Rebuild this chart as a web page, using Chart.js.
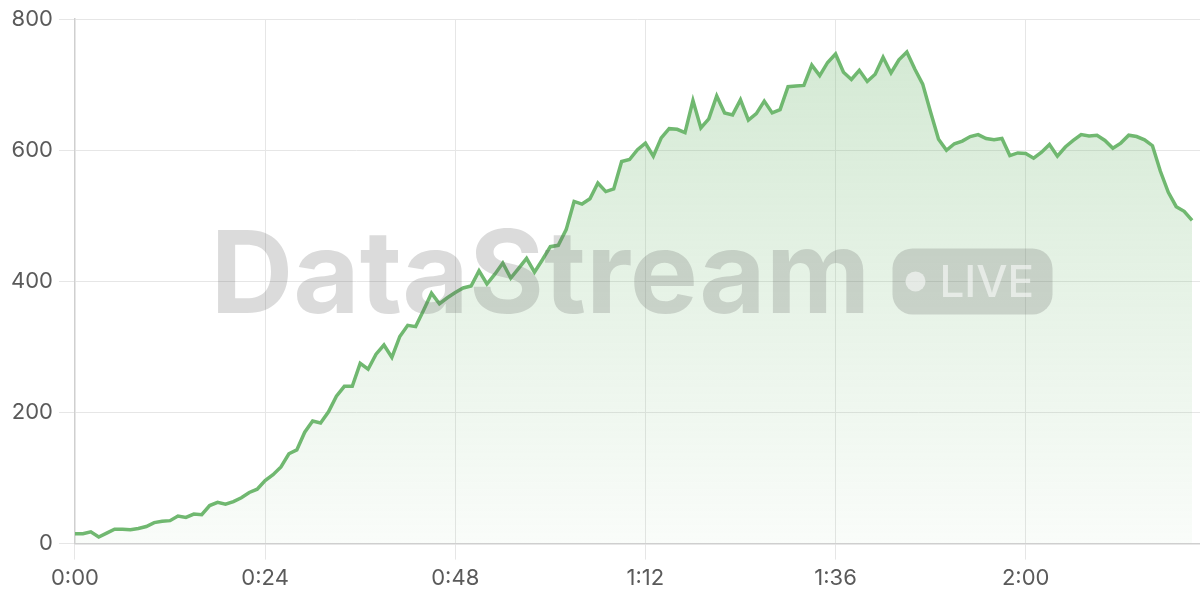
<!DOCTYPE html>
<html>
<head>
<meta charset="utf-8">
<script src="https://cdn.jsdelivr.net/npm/chart.js@4"></script>
<style>
  html, body { margin: 0; padding: 0; background: #fff; }
  #wrap { width: 1200px; height: 600px; }
</style>
</head>
<body>
<div id="wrap"><canvas id="chart" width="1200" height="600"></canvas></div>
<script>
// one sample per step, x axis shown as m:ss
const values = [
  15, 15, 18, 10, 16, 22, 22, 21, 23, 26,
  32, 34, 35, 42, 40, 45, 44, 58, 63, 60,
  64, 70, 78, 83, 96, 105, 117, 137, 143, 170,
  187, 184, 201, 225, 240, 240, 275, 266, 289, 303,
  284, 316, 333, 331, 356, 382, 366, 375, 383, 390,
  393, 416, 396, 411, 428, 405, 420, 435, 414, 433,
  453, 455, 479, 522, 518, 526, 550, 537, 541, 583,
  586, 601, 611, 591, 619, 633, 632, 627, 676, 634,
  648, 683, 657, 654, 677, 646, 656, 675, 657, 662,
  697, 698, 699, 730, 714, 734, 747, 719, 708, 722,
  705, 716, 742, 718, 738, 750, 724, 701, 658, 617,
  600, 610, 614, 621, 624, 618, 616, 618, 592, 596,
  595, 588, 597, 609, 591, 605, 615, 624, 622, 623,
  615, 603, 611, 623, 621, 616, 607, 568, 536, 514,
  507, 493
];
const xTicks = [0, 24, 48, 72, 96, 120];
const yTicks = [0, 200, 400, 600, 800];

const lineColor = "#70b870";
const fontFamily = "Inter, 'Liberation Sans', Arial, sans-serif";
const fmtTime = v => Math.floor(v / 60) + ":" + String(v % 60).padStart(2, "0");

// watermark on top of the plot
const watermark = {
  id: "watermark",
  afterDatasetsDraw(chart) {
    const { ctx, chartArea } = chart;
    const cx = (chartArea.left + chartArea.right) / 2;
    const cy = (chartArea.top + chartArea.bottom) / 2;
    ctx.save();
    let size = 117;
    ctx.font = "bold " + size + "px " + fontFamily;
    const w = ctx.measureText("DataStream").width;
    if (w > 660) {
      size = size * 660 / w;
      ctx.font = "bold " + size + "px " + fontFamily;
    }
    ctx.fillStyle = "rgba(90,90,90,0.22)";
    ctx.textBaseline = "alphabetic";
    ctx.fillText("DataStream", cx - 427, cy + 32);

    const pillW = 160, pillH = 66;
    const px = cx + 255, py = cy - pillH / 2;
    ctx.beginPath();
    ctx.roundRect(px, py, pillW, pillH, 20);
    ctx.fill();
    ctx.fillStyle = "rgba(255,255,255,0.55)";
    ctx.beginPath();
    ctx.arc(px + 23, cy, 10, 0, Math.PI * 2);
    ctx.fill();
    ctx.font = "500 44px " + fontFamily;
    ctx.textBaseline = "alphabetic";
    ctx.fillText("LIVE", px + 47, cy + 16);
    ctx.restore();
  }
};

const ctx = document.getElementById("chart").getContext("2d");
new Chart(ctx, {
  type: "line",
  data: {
    labels: values.map((_, i) => i),
    datasets: [{
      data: values,
      borderColor: lineColor,
      borderWidth: 3.5,
      pointRadius: 0,
      tension: 0,
      fill: true,
      backgroundColor: c => {
        const area = c.chart.chartArea;
        if (!area) return "rgba(114,184,114,0.2)";
        const g = c.chart.ctx.createLinearGradient(0, area.top, 0, area.bottom);
        g.addColorStop(0, "rgba(114,184,114,0.32)");
        g.addColorStop(1, "rgba(114,184,114,0.04)");
        return g;
      }
    }]
  },
  options: {
    responsive: false,
    animation: false,
    layout: { padding: { top: 7, right: 0, left: 5, bottom: 2 } },
    plugins: { legend: { display: false }, tooltip: { enabled: false } },
    scales: {
      x: {
        type: "linear",
        min: 0,
        max: 142,
        afterBuildTicks: axis => { axis.ticks = xTicks.map(v => ({ value: v })); },
        ticks: {
          callback: v => fmtTime(v),
          color: "#5a5a5a",
          font: { family: fontFamily, size: 22 },
          padding: 6,
          maxRotation: 0
        },
        grid: { color: "#e6e6e6", tickLength: 16 },
        border: { color: "#cfcfcf", width: 1.5 }
      },
      y: {
        min: 0,
        max: 800,
        afterBuildTicks: axis => { axis.ticks = yTicks.map(v => ({ value: v })); },
        ticks: {
          color: "#5a5a5a",
          font: { family: fontFamily, size: 22 },
          padding: 6
        },
        grid: { color: "#e6e6e6", tickLength: 16 },
        border: { color: "#cfcfcf", width: 1.5 }
      }
    }
  },
  plugins: [watermark]
});
</script>
</body>
</html>
